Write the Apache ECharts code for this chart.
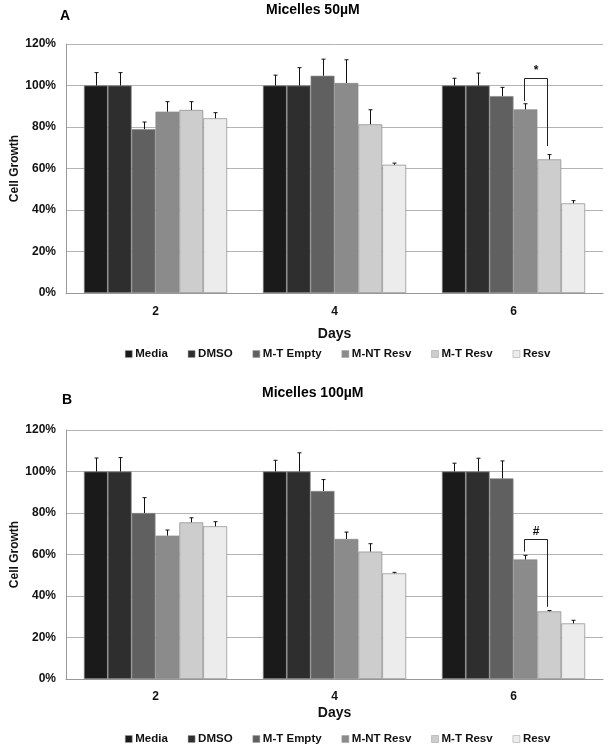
<!DOCTYPE html>
<html>
<head>
<meta charset="utf-8">
<script src="https://cdn.jsdelivr.net/npm/echarts@6/dist/echarts.min.js"></script>
<style>html,body{margin:0;padding:0;background:#fff}#c{width:609px;height:750px}</style>
</head>
<body>
<div id="c"></div>
<script>
var categories = ['2', '4', '6'];
var seriesNames = ['Media', 'DMSO', 'M-T Empty', 'M-NT Resv', 'M-T Resv', 'Resv'];
var colors = ['#1a1a1a', '#2e2e2e', '#606060', '#8b8b8b', '#cdcdcd', '#ececec'];
var yTicks = [0, 20, 40, 60, 80, 100, 120];

// Panel A: Micelles 50µM (value per day, upper error)
var aMedia = [100, 100, 100],       aMediaErr = [6.2, 5, 3.5];
var aDMSO = [100, 100, 100],        aDMSOErr = [6.2, 8.6, 6];
var aMTEmpty = [79, 104.7, 94.9],   aMTEmptyErr = [3.4, 8, 4.2];
var aMNTResv = [87.4, 101.2, 88.5], aMNTResvErr = [4.8, 11.2, 2.7];
var aMTResv = [88.2, 81.3, 64.4],   aMTResvErr = [4, 7, 2.3];
var aResv = [84.2, 61.8, 43.2],     aResvErr = [2.7, 0.8, 1.3];

// Panel B: Micelles 100µM
var bMedia = [100, 100, 100],       bMediaErr = [6.5, 5.4, 4];
var bDMSO = [100, 100, 100],        bDMSOErr = [6.7, 9, 6.4];
var bMTEmpty = [80, 90.6, 96.7],    bMTEmptyErr = [7.4, 5.5, 8.4];
var bMNTResv = [69.1, 67.5, 57.6],  bMNTResvErr = [2.7, 3.3, 2];
var bMTResv = [75.5, 61.4, 32.6],   bMTResvErr = [2.2, 3.8, 0.4];
var bResv = [73.6, 50.9, 26.8],     bResvErr = [2.2, 0.5, 1.5];

// Significance brackets: [dayIndex, leftSeries, rightSeries, top, leftBottom, rightBottom], label
var aBracket = [2, 3, 4, 103.8, 92.5, 70.8], aBracketLabel = '*';
var bBracket = [2, 3, 4, 67.5, 61.4, 34.8], bBracketLabel = '#';

var panelA = [aMedia, aDMSO, aMTEmpty, aMNTResv, aMTResv, aResv];
var panelAErr = [aMediaErr, aDMSOErr, aMTEmptyErr, aMNTResvErr, aMTResvErr, aResvErr];
var panelB = [bMedia, bDMSO, bMTEmpty, bMNTResv, bMTResv, bResv];
var panelBErr = [bMediaErr, bDMSOErr, bMTEmptyErr, bMNTResvErr, bMTResvErr, bResvErr];

var FONT = "'Liberation Sans', Arial, sans-serif";
var GAP = 0.2;
var N = seriesNames.length;

function barOffset(api, s) {
  var band = api.size([1, 0])[0];
  var w = band * (1 - GAP) / N;
  return (s - (N - 1) / 2) * w;
}

function errRender(params, api) {
  var cat = api.value(0), s = api.value(1), v = api.value(2), e = api.value(3);
  var p0 = api.coord([cat, v]);
  var p1 = api.coord([cat, v + e]);
  var x = Math.round(p0[0] + barOffset(api, s)) + 0.5;
  var st = {stroke: '#111', lineWidth: 1};
  return {type: 'group', children: [
    {type: 'line', shape: {x1: x, y1: p0[1], x2: x, y2: p1[1]}, style: st},
    {type: 'line', shape: {x1: x - 2, y1: p1[1], x2: x + 2, y2: p1[1]}, style: st}
  ]};
}

function bracketRender(label) {
  return function (params, api) {
    var cat = api.value(0), l = api.value(1), r = api.value(2);
    var top = api.value(3), lb = api.value(4), rb = api.value(5);
    var c = api.coord([cat, top]);
    var xl = Math.round(c[0] + barOffset(api, l) - 1.5) + 0.5;
    var xr = Math.round(c[0] + barOffset(api, r) - 2.5) + 0.5;
    var yt = Math.round(c[1]) + 0.5;
    var yl = api.coord([cat, lb])[1];
    var yr = api.coord([cat, rb])[1];
    return {type: 'group', children: [
      {type: 'polyline', shape: {points: [[xl, yl], [xl, yt], [xr, yt], [xr, yr]]},
        style: {stroke: '#222', lineWidth: 1, fill: null}},
      {type: 'text', style: {text: label, x: (xl + xr) / 2, y: yt - 2, textAlign: 'center',
        textVerticalAlign: 'bottom', font: 'bold 12px ' + FONT, fill: '#111'}}
    ]};
  };
}

var series = [];
function addPanel(idx, vals, errs, bracket, blabel) {
  for (var s = 0; s < N; s++) {
    series.push({
      type: 'bar', name: seriesNames[s], xAxisIndex: idx, yAxisIndex: idx,
      data: vals[s], barGap: '0%', barCategoryGap: (GAP * 100) + '%',
      itemStyle: {color: colors[s], borderColor: '#8a8a8a', borderWidth: 0.7},
      emphasis: {disabled: true}, silent: true
    });
  }
  var ed = [];
  for (var s2 = 0; s2 < N; s2++) {
    for (var c = 0; c < categories.length; c++) {
      ed.push([c, s2, vals[s2][c], errs[s2][c]]);
    }
  }
  series.push({
    type: 'custom', xAxisIndex: idx, yAxisIndex: idx, renderItem: errRender,
    data: ed, encode: {x: 0, y: 2}, z: 5, silent: true
  });
  series.push({
    type: 'custom', xAxisIndex: idx, yAxisIndex: idx, renderItem: bracketRender(blabel),
    data: [bracket], encode: {x: 0, y: 3}, z: 6, silent: true
  });
}
addPanel(0, panelA, panelAErr, aBracket, aBracketLabel);
addPanel(1, panelB, panelBErr, bBracket, bBracketLabel);

function xAx(idx, margin, nameGap) {
  return {
    type: 'category', gridIndex: idx, data: categories,
    axisLine: {lineStyle: {color: '#999', width: 1}},
    axisTick: {show: false},
    axisLabel: {color: '#111', fontFamily: FONT, fontWeight: 'bold', fontSize: 12, margin: margin},
    name: 'Days', nameLocation: 'middle', nameGap: nameGap,
    nameTextStyle: {color: '#111', fontFamily: FONT, fontWeight: 'bold', fontSize: 14}
  };
}
function yAx(idx) {
  return {
    type: 'value', gridIndex: idx, min: yTicks[0], max: yTicks[yTicks.length - 1], interval: 20,
    axisLine: {show: true, lineStyle: {color: '#999', width: 1}},
    axisTick: {show: false},
    splitLine: {lineStyle: {color: '#b4b4b4', width: 1}},
    axisLabel: {color: '#111', fontFamily: FONT, fontWeight: 'bold', fontSize: 12, margin: 10,
      formatter: function (v) { return v + '%'; }},
    name: 'Cell Growth', nameLocation: 'middle', nameGap: 45, nameRotate: 90,
    nameMoveOverlap: false,
    nameTextStyle: {color: '#111', fontFamily: FONT, fontWeight: 'bold', fontSize: 12}
  };
}
function legendAt(top) {
  return {
    data: seriesNames, left: 125, top: top, padding: 0, itemGap: 20,
    itemWidth: 7, itemHeight: 7, icon: 'rect', selectedMode: false,
    itemStyle: {borderColor: '#9a9a9a', borderWidth: 0.5},
    textStyle: {color: '#111', fontFamily: FONT, fontWeight: 'bold', fontSize: 11.5, padding: [0, 0, 0, -2]}
  };
}
function titleAt(text, left, top, size) {
  return {text: text, left: left, top: top, padding: 0,
    textStyle: {color: '#000', fontFamily: FONT, fontWeight: 'bold', fontSize: size}};
}

var chart = echarts.init(document.getElementById('c'), null, {renderer: 'canvas'});
chart.setOption({
  animation: false,
  backgroundColor: '#fff',
  title: [
    titleAt('Micelles 50µM', 266, 3, 14),
    titleAt('A', 60, 9, 14),
    titleAt('Micelles 100µM', 262, 386, 14),
    titleAt('B', 62, 393, 14)
  ],
  legend: [legendAt(348), legendAt(733)],
  grid: [
    {left: 66, right: 6, top: 44, height: 249, outerBoundsMode: 'none', containLabel: false},
    {left: 66, right: 6, top: 430, height: 249, outerBoundsMode: 'none', containLabel: false}
  ],
  xAxis: [xAx(0, 13, 34), xAx(1, 12, 27)],
  yAxis: [yAx(0), yAx(1)],
  series: series
});
</script>
</body>
</html>
